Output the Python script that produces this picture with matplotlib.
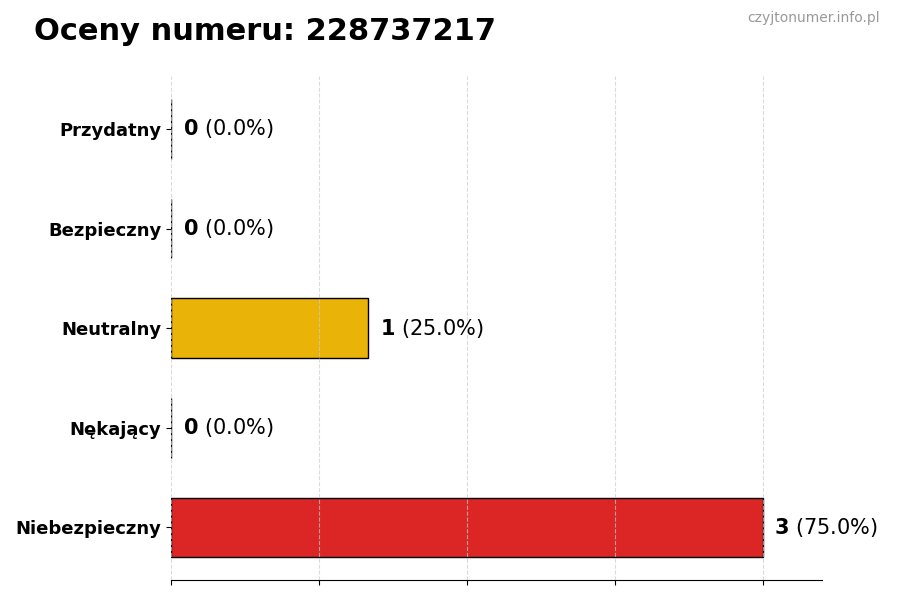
import numpy as np
import matplotlib
matplotlib.use('Agg')
import matplotlib.pyplot as plt

categories = ['Niebezpieczny', 'Nękający', 'Neutralny', 'Bezpieczny', 'Przydatny']
counts = [3, 0, 1, 0, 0]
colors = ['#DC2626', '#6B7280', '#EAB308', '#16A34A', '#2563EB']
number = '228737217'

if __name__ == '__main__':
    total = sum(counts)
    fig = plt.figure(figsize=(9, 6), dpi=100)
    ax = fig.add_axes([0.19, 0.033, 0.723, 0.84])

    y = np.arange(len(categories))
    ax.barh(y, counts, height=0.6, color=colors, edgecolor='black', linewidth=1)

    for i, c in enumerate(counts):
        pct = 100.0 * c / total if total else 0
        ax.annotate(f'$\\bf{{{c}}}$ ({pct:.1f}%)', (c, i), xytext=(8.5, 0),
                    textcoords='offset points', va='center', ha='left', fontsize=15)

    ax.set_yticks(y)
    ax.set_yticklabels(categories, fontsize=13, fontweight='bold')
    ax.set_xlim(0, max(counts) * 1.1)
    ax.set_xticks(np.linspace(0, max(counts), 5))
    ax.set_xticklabels([])
    ax.xaxis.grid(True, linestyle='--', color='#cccccc', linewidth=0.8, alpha=0.7)
    ax.set_axisbelow(False)
    for s in ['top', 'right', 'left']:
        ax.spines[s].set_visible(False)

    fig.text(0.038, 0.948, f'Oceny numeru: {number}', fontsize=22, fontweight='bold',
             va='center', ha='left')
    fig.text(0.978, 0.97, 'czyjtonumer.info.pl', fontsize=10, color='#999999',
             ha='right', va='center')

    fig.savefig('out.png')
